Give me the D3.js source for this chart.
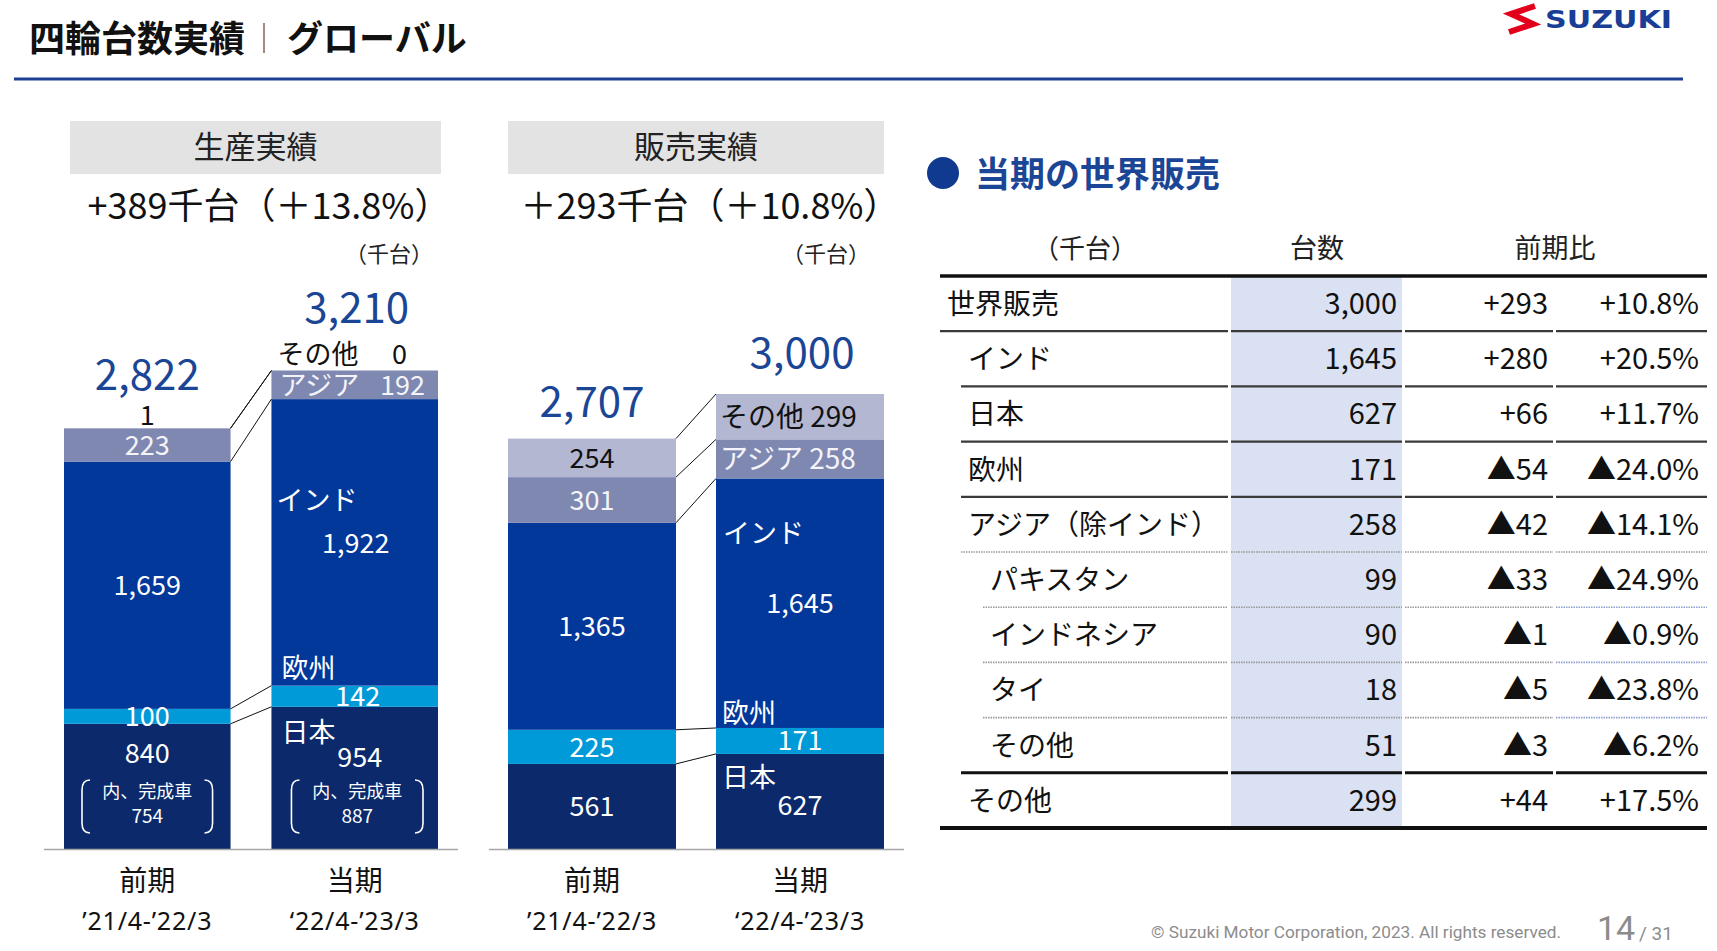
<!DOCTYPE html>
<html>
<head>
<meta charset="utf-8">
<title>四輪台数実績 グローバル</title>
<script src="https://d3js.org/d3.v7.min.js"></script>
<style>
  body { margin: 0; background: #fff; }
  svg text { font-family: "Noto Sans CJK JP", "Noto Sans", sans-serif; }
</style>
</head>
<body>
<svg id="chart"></svg>
<script>
const width = 1717;
const height = 951;

// ---- data (千台) ----
const periods = ['前期', '当期'];
const periodDates = ['’21/4-’22/3', '‘22/4-’23/3'];
const regions = ['日本', '欧州', 'インド', 'アジア', 'その他'];

const prodPrev = [840, 100, 1659, 223, 1];
const prodCur = [954, 142, 1922, 192, 0];
const prodTotals = [2822, 3210];
const prodFinished = [754, 887];

const salesPrev = [561, 225, 1365, 301, 254];
const salesCur = [627, 171, 1645, 258, 299];
const salesTotals = [2707, 3000];

const tableNames = ['世界販売', 'インド', '日本', '欧州', 'アジア（除インド）', 'パキスタン', 'インドネシア', 'タイ', 'その他', 'その他'];
const tableLevel = [0, 1, 1, 1, 1, 2, 2, 2, 2, 1];
const tableUnits = [3000, 1645, 627, 171, 258, 99, 90, 18, 51, 299];
const tableDiff = ['+293', '+280', '+66', '▲54', '▲42', '▲33', '▲1', '▲5', '▲3', '+44'];
const tablePct = ['+10.8%', '+20.5%', '+11.7%', '▲24.0%', '▲14.1%', '▲24.9%', '▲0.9%', '▲23.8%', '▲6.2%', '+17.5%'];

const color = d3.scaleOrdinal()
  .domain(regions)
  .range(['#0c2a6b', '#009ad8', '#01389a', '#7f88b1', '#b4b7d1']);
const fmt = d3.format(',');

const svg = d3.select('#chart')
  .attr('width', width)
  .attr('height', height)
  .style('display', 'block');

// ---- page header ----
svg.append('text').attr('x', 29).attr('y', 52)
  .attr('font-size', 36).attr('font-weight', 'bold').attr('fill', '#111')
  .text('四輪台数実績');
svg.append('line').attr('x1', 264).attr('x2', 264).attr('y1', 23).attr('y2', 53)
  .attr('stroke', '#6b3a2a').attr('stroke-width', 1.2);
svg.append('text').attr('x', 287).attr('y', 52)
  .attr('font-size', 36).attr('font-weight', 'bold').attr('fill', '#111')
  .text('グローバル');
svg.append('line').attr('x1', 14).attr('x2', 1683).attr('y1', 79).attr('y2', 79)
  .attr('stroke', '#1c3f94').attr('stroke-width', 3);

// logo
svg.append('polyline')
  .attr('points', '1535,6 1511,14 1533,24 1509,32')
  .attr('fill', 'none').attr('stroke', '#e3001b').attr('stroke-width', 6)
  .attr('stroke-linejoin', 'miter');
svg.append('text').attr('x', 1545).attr('y', 28)
  .style('font-family', '"DejaVu Sans", sans-serif')
  .attr('font-size', 25).attr('font-weight', 'bold').attr('fill', '#1a3d96')
  .attr('textLength', 127).attr('lengthAdjust', 'spacingAndGlyphs')
  .text('SUZUKI');

// footer
svg.append('text').attr('x', 1151).attr('y', 938)
  .style('font-family', 'Roboto, sans-serif')
  .attr('font-size', 17).attr('fill', '#8c8c8c')
  .attr('textLength', 410).attr('lengthAdjust', 'spacingAndGlyphs')
  .text('© Suzuki Motor Corporation, 2023. All rights reserved.');
svg.append('text').attr('x', 1597).attr('y', 940)
  .style('font-family', 'Roboto, sans-serif')
  .attr('font-size', 34).attr('fill', '#8c8c8c').text('14');
svg.append('text').attr('x', 1639).attr('y', 940)
  .style('font-family', 'Roboto, sans-serif')
  .attr('font-size', 19).attr('fill', '#8c8c8c').text('/ 31');

// ---- stacked bar panels ----
function panel(o) {
  const g = svg.append('g');
  const x = d3.scaleBand().domain(periods).range(o.xRange).paddingInner(o.pad);
  const y = d3.scaleLinear().domain([0, o.max]).range([849, o.top]);
  const bw = x.bandwidth();

  // header box
  g.append('rect').attr('x', o.box[0]).attr('y', 121)
    .attr('width', o.box[1] - o.box[0]).attr('height', 53).attr('fill', '#e3e3e3');
  g.append('text').attr('x', (o.box[0] + o.box[1]) / 2).attr('y', 158)
    .attr('text-anchor', 'middle').attr('font-size', 31).attr('fill', '#222')
    .text(o.title);
  g.append('text').attr('x', o.subX).attr('y', 219)
    .attr('text-anchor', 'middle').attr('font-size', 36).attr('fill', '#111')
    .text(o.sub);
  g.append('text').attr('x', o.unitX).attr('y', 262)
    .attr('text-anchor', 'end').attr('font-size', 22).attr('fill', '#222')
    .text('（千台）');

  const rows = periods.map((p, i) => {
    const r = { period: p };
    regions.forEach((k, j) => { r[k] = o.values[i][j]; });
    return r;
  });
  const series = d3.stack().keys(regions)(rows);

  g.selectAll('g.layer').data(series).join('g')
    .attr('class', 'layer')
    .attr('fill', d => color(d.key))
    .selectAll('rect').data(d => d).join('rect')
    .attr('x', d => x(d.data.period))
    .attr('width', bw)
    .attr('y', d => y(d[1]))
    .attr('height', d => y(d[0]) - y(d[1]));

  // connectors between the two bars
  const cx0 = x(periods[0]) + bw, cx1 = x(periods[1]);
  series.forEach(s => {
    g.append('line')
      .attr('x1', cx0).attr('y1', y(s[0][1]))
      .attr('x2', cx1).attr('y2', y(s[1][1]))
      .attr('stroke', '#111').attr('stroke-width', 1);
  });

  // baseline
  g.append('line').attr('x1', o.axis[0]).attr('x2', o.axis[1])
    .attr('y1', 849.5).attr('y2', 849.5)
    .attr('stroke', '#a6a6a6').attr('stroke-width', 1.5);

  // category labels
  periods.forEach((p, i) => {
    const c = x(p) + bw / 2;
    g.append('text').attr('x', c).attr('y', 891).attr('text-anchor', 'middle')
      .attr('font-size', 28).attr('fill', '#111').text(p);
    g.append('text').attr('x', c).attr('y', 930).attr('text-anchor', 'middle')
      .style('font-family', '"Noto Sans", sans-serif')
      .style('letter-spacing', '0.8px')
      .attr('font-size', 25).attr('fill', '#111').text(periodDates[i]);
    g.append('text').attr('x', c + (i === 1 ? 2 : 0)).attr('y', y(o.totals[i]) - o.totalGap[i])
      .attr('text-anchor', 'middle').attr('font-size', 42).attr('fill', '#1b4595')
      .text(fmt(o.totals[i]));
  });

  const seg = (k, i) => series[k][i];
  const top = (k, i) => y(seg(k, i)[1]);
  const mid = (k, i) => y((seg(k, i)[0] + seg(k, i)[1]) / 2);
  const left = i => x(periods[i]);
  const cen = i => x(periods[i]) + bw / 2;
  const label = (tx, ty, t, opt = {}) => g.append('text')
    .attr('x', tx).attr('y', ty)
    .attr('text-anchor', opt.anchor || 'middle')
    .attr('font-size', opt.size || 27)
    .attr('fill', opt.fill || '#fff')
    .text(t);

  return { g, x, y, bw, seg, top, mid, left, cen, label };
}

// production
const P = panel({
  xRange: [64, 438], pad: 41 / 208, max: 3210, top: 370.5,
  box: [70, 441], title: '生産実績', sub: '+389千台（＋13.8%）', subX: 269, unitX: 433,
  axis: [44, 458], values: [prodPrev, prodCur], totals: prodTotals, totalGap: [38, 48]
});
// previous period
P.label(P.cen(0), P.top(0, 0) + 39, fmt(prodPrev[0]));
P.label(P.cen(0), P.mid(1, 0) + 10, fmt(prodPrev[1]));
P.label(P.cen(0), P.mid(2, 0) + 10, fmt(prodPrev[2]));
P.label(P.cen(0), P.mid(3, 0) + 10, fmt(prodPrev[3]), { fill: '#f4f4f8' });
P.label(P.cen(0), P.top(4, 0) - 3, fmt(prodPrev[4]), { fill: '#111' });
// current period
P.label(P.left(1) + 10, P.top(0, 1) + 35, regions[0], { anchor: 'start' });
P.label(P.cen(1) + 5, P.top(0, 1) + 60, fmt(prodCur[0]));
P.label(P.left(1) + 10, P.top(1, 1) - 8, regions[1], { anchor: 'start' });
P.label(P.cen(1) + 3, P.mid(1, 1) + 10, fmt(prodCur[1]));
P.label(P.left(1) + 5, P.top(2, 1) + 111, regions[2], { anchor: 'start' });
P.label(P.cen(1) + 1, P.top(2, 1) + 154, fmt(prodCur[2]));
P.label(P.left(1) + 8, P.mid(3, 1) + 10, regions[3], { anchor: 'start', fill: '#f4f4f8' });
P.label(P.left(1) + P.bw - 13, P.mid(3, 1) + 10, fmt(prodCur[3]), { anchor: 'end', fill: '#f4f4f8' });
P.label(P.left(1) + 6, P.top(4, 1) - 7, regions[4], { anchor: 'start', fill: '#111' });
P.label(P.left(1) + P.bw - 31, P.top(4, 1) - 7, fmt(prodCur[4]), { anchor: 'end', fill: '#111' });
// finished vehicles bracket
prodFinished.forEach((v, i) => {
  const y0 = P.y(0) - 69, y1 = P.y(0) - 16;
  const l = P.left(i) + (i === 0 ? 18 : 20), r = P.left(i) + P.bw - (i === 0 ? 18 : 15);
  P.g.append('path')
    .attr('d', `M${l + 8},${y0} Q${l},${y0} ${l},${y0 + 10} L${l},${y1 - 10} Q${l},${y1} ${l + 8},${y1}`)
    .attr('fill', 'none').attr('stroke', '#fff').attr('stroke-width', 1.6);
  P.g.append('path')
    .attr('d', `M${r - 8},${y0} Q${r},${y0} ${r},${y0 + 10} L${r},${y1 - 10} Q${r},${y1} ${r - 8},${y1}`)
    .attr('fill', 'none').attr('stroke', '#fff').attr('stroke-width', 1.6);
  const c = (l + r) / 2;
  P.label(c, y0 + 18, '内、完成車', { size: 18 });
  P.label(c, y0 + 43, fmt(v), { size: 19 });
});

// sales
const S = panel({
  xRange: [508, 884], pad: 40 / 208, max: 3000, top: 394,
  box: [508, 884], title: '販売実績', sub: '＋293千台（＋10.8%）', subX: 710, unitX: 870,
  axis: [489, 904], values: [salesPrev, salesCur], totals: salesTotals, totalGap: [21, 26]
});
S.label(S.cen(0), S.mid(0, 0) + 10, fmt(salesPrev[0]));
S.label(S.cen(0), S.mid(1, 0) + 10, fmt(salesPrev[1]));
S.label(S.cen(0), S.mid(2, 0) + 10, fmt(salesPrev[2]));
S.label(S.cen(0), S.mid(3, 0) + 10, fmt(salesPrev[3]), { fill: '#f4f4f8' });
S.label(S.cen(0), S.mid(4, 0) + 10, fmt(salesPrev[4]), { fill: '#111' });
S.label(S.left(1) + 6, S.top(0, 1) + 33, regions[0], { anchor: 'start' });
S.label(S.cen(1), S.top(0, 1) + 61, fmt(salesCur[0]));
S.label(S.left(1) + 6, S.top(1, 1) - 5, regions[1], { anchor: 'start' });
S.label(S.cen(1), S.mid(1, 1) + 9, fmt(salesCur[1]));
S.label(S.left(1) + 7, S.top(2, 1) + 65, regions[2], { anchor: 'start' });
S.label(S.cen(1), S.top(2, 1) + 135, fmt(salesCur[2]));
S.label(S.left(1) + 4, S.mid(3, 1) + 10, regions[3] + ' ' + fmt(salesCur[3]), { anchor: 'start', size: 28, fill: '#f4f4f8' });
S.label(S.left(1) + 4, S.mid(4, 1) + 10, regions[4] + ' ' + fmt(salesCur[4]), { anchor: 'start', size: 28, fill: '#111' });

// ---- table: 当期の世界販売 ----
const T = svg.append('g');
T.append('circle').attr('cx', 943).attr('cy', 173).attr('r', 16).attr('fill', '#0f3a90');
T.append('text').attr('x', 975).attr('y', 187)
  .attr('font-size', 35).attr('font-weight', 'bold').attr('fill', '#1b4595')
  .text('当期の世界販売');

const rowY = d3.scaleBand().domain(d3.range(tableNames.length)).range([276, 828]);
const indentX = [940, 961, 983];
const cols = [[1231, 1402], [1405, 1553], [1556, 1707]];

T.append('rect').attr('x', cols[0][0]).attr('y', rowY(0))
  .attr('width', cols[0][1] - cols[0][0]).attr('height', rowY.step() * tableNames.length)
  .attr('fill', '#d9e1f2');

T.append('text').attr('x', 1085).attr('y', 258).attr('text-anchor', 'middle')
  .attr('font-size', 26).attr('fill', '#222').text('（千台）');
T.append('text').attr('x', 1317).attr('y', 258).attr('text-anchor', 'middle')
  .attr('font-size', 27).attr('fill', '#222').text('台数');
T.append('text').attr('x', 1555).attr('y', 258).attr('text-anchor', 'middle')
  .attr('font-size', 27).attr('fill', '#222').text('前期比');

// row rules
const ruleIndent = [0, 1, 1, 1, 1, 2, 2, 2, 1];
const ruleDotted = [false, false, false, false, true, true, true, true, false];
ruleIndent.forEach((lv, j) => {
  const k = j + 1;
  const yy = rowY(k);
  const segs = [[indentX[lv], 1228]].concat(cols);
  segs.forEach((s, c) => {
    const ln = T.append('line').attr('x1', s[0]).attr('x2', s[1]).attr('y1', yy).attr('y2', yy);
    if (ruleDotted[j]) {
      ln.attr('stroke', c === 3 && lv === 2 ? '#8da1cf' : '#9a9a9a')
        .attr('stroke-width', 1.6).attr('stroke-dasharray', '1.5 1');
    } else if (k === 9) {
      ln.attr('stroke', '#111').attr('stroke-width', 3);
    } else {
      ln.attr('stroke', '#3a3a3a').attr('stroke-width', 2.2);
    }
  });
});
T.append('line').attr('x1', 940).attr('x2', 1707).attr('y1', rowY(0)).attr('y2', rowY(0))
  .attr('stroke', '#111').attr('stroke-width', 3.5);
T.append('line').attr('x1', 940).attr('x2', 1707).attr('y1', 828).attr('y2', 828)
  .attr('stroke', '#111').attr('stroke-width', 4);

tableNames.forEach((n, i) => {
  const base = rowY(i) + 38;
  T.append('text').attr('x', indentX[tableLevel[i]] + 7).attr('y', base)
    .attr('font-size', 28).attr('fill', '#111').text(n);
  T.append('text').attr('x', 1397).attr('y', base).attr('text-anchor', 'end')
    .attr('font-size', 29).attr('fill', '#111').text(fmt(tableUnits[i]));
  T.append('text').attr('x', 1548).attr('y', base).attr('text-anchor', 'end')
    .attr('font-size', 29).attr('fill', '#111').text(tableDiff[i]);
  T.append('text').attr('x', 1699).attr('y', base).attr('text-anchor', 'end')
    .attr('font-size', 29).attr('fill', '#111').text(tablePct[i]);
});
</script>
</body>
</html>
